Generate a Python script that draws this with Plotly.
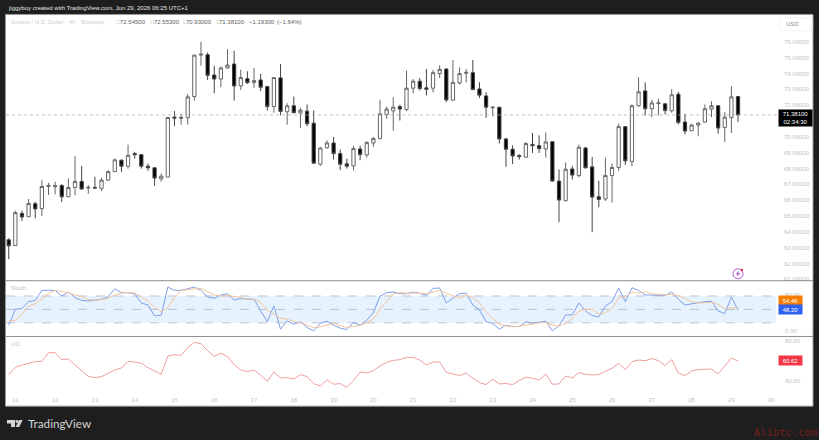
import plotly.graph_objects as go

# Solana / USD, 4h candles
open_ = [63.49,63.13,65.16,64.95,65.77,65.46,66.86,66.84,66.92,66.21,66.80,67.18,66.76,66.80,66.74,67.26,67.80,68.52,68.14,68.94,
         68.87,68.14,68.04,67.34,67.45,71.24,71.16,71.20,72.54,75.16,75.18,73.90,73.65,74.35,74.60,73.21,73.67,73.42,73.59,73.17,
         71.91,73.72,71.58,71.96,71.50,71.62,70.86,68.27,69.31,69.61,68.94,68.29,68.16,69.23,68.85,69.61,69.88,71.41,71.64,71.91,
         71.72,73.07,73.51,73.09,73.07,73.99,74.28,72.31,73.40,74.01,74.05,73.02,72.58,71.83,71.87,69.86,69.21,68.81,68.71,69.52,
         69.44,69.23,69.69,67.20,65.96,67.97,67.55,69.29,68.10,66.21,66.07,67.55,68.06,70.64,68.44,71.96,72.90,71.77,72.10,72.08,
         71.64,72.69,70.93,70.38,70.74,70.93,71.75,71.96,70.59,71.22,72.545]
high = [63.59,65.33,65.33,66.07,65.90,67.26,67.09,67.16,67.01,67.37,68.77,68.16,66.95,67.47,67.41,67.89,68.62,68.56,69.50,69.04,
        68.90,68.31,68.04,67.68,71.24,71.62,71.45,72.71,75.16,76.00,75.33,74.49,74.45,75.54,75.44,74.24,74.14,74.35,73.97,73.17,
        73.74,74.60,72.12,72.54,71.83,72.04,71.66,69.36,69.78,69.99,69.19,68.62,69.44,69.44,69.73,69.99,72.33,71.91,72.50,72.02,
        74.18,73.65,73.72,74.28,74.22,74.51,74.32,74.85,74.39,74.28,74.85,73.44,72.81,71.91,71.87,69.94,69.46,68.90,69.67,70.24,
        70.09,70.28,69.69,67.93,68.37,68.16,69.50,69.36,68.73,67.22,68.69,68.31,70.82,70.66,72.04,73.76,73.44,72.33,72.40,72.12,
        73.02,72.84,71.45,70.82,70.93,72.04,72.25,71.98,71.56,73.19,72.553]
low = [62.27,63.13,64.68,64.95,64.85,65.00,66.32,66.36,65.88,66.21,66.30,66.67,66.40,66.72,66.57,67.22,67.76,67.78,67.99,68.62,
       67.99,67.85,66.90,67.16,67.45,70.66,70.76,70.76,72.29,74.49,73.59,72.75,73.13,74.32,72.29,72.96,73.34,73.09,72.88,71.66,
       71.52,71.35,70.76,71.50,70.55,70.66,68.31,68.16,69.25,68.56,67.89,67.99,67.87,68.52,68.69,69.36,69.84,71.14,70.38,71.03,
       71.62,72.75,72.92,72.61,72.81,73.72,72.19,72.31,73.30,73.44,72.96,72.44,71.20,71.29,69.57,68.10,68.27,68.56,68.69,68.98,
       68.98,68.69,67.18,64.60,65.92,67.30,67.43,67.99,63.97,65.54,65.94,65.84,67.85,68.22,68.14,71.91,71.35,71.24,71.35,71.41,
       71.52,70.78,70.15,70.36,70.03,70.91,71.24,70.19,69.67,70.24,70.93]
close = [63.11,65.21,64.93,65.79,65.44,66.86,66.92,66.92,66.21,66.80,67.18,66.70,66.80,66.76,67.26,67.80,68.54,68.14,68.83,68.87,
         68.14,68.04,67.39,67.51,71.22,71.18,71.22,72.52,75.16,75.22,73.88,73.65,74.35,74.53,73.21,73.74,73.42,73.55,73.13,71.91,
         73.74,71.60,71.96,71.52,71.68,70.82,68.33,69.29,69.61,68.94,68.27,68.14,69.25,68.87,69.63,69.88,71.45,71.75,71.87,71.75,
         73.07,73.51,73.05,73.00,74.05,74.26,72.33,73.44,73.99,74.07,72.98,72.63,71.87,71.87,69.86,69.21,68.79,68.75,69.57,69.44,
         69.25,69.67,67.20,66.00,67.95,67.58,69.34,68.04,66.19,66.04,67.55,68.06,70.64,68.48,71.96,72.84,71.77,72.14,72.14,71.66,
         72.65,70.91,70.36,70.74,70.86,71.77,71.96,70.55,71.24,72.52,71.381]

# Stochastic %K and %D
stoch_k = [14.7,50.3,51.8,67.3,70.3,92.5,92.5,92.5,79.9,88.8,76.2,70.3,68.8,71.0,72.5,78.4,96.2,87.3,87.3,85.1,
           64.4,59.9,35.5,37.0,100.0,92.5,92.5,96.2,99.9,92.5,77.7,74.8,82.2,85.1,71.0,74.0,74.0,72.5,46.6,22.9,
           57.7,5.9,24.4,17.0,22.2,9.6,2.2,19.2,23.6,14.7,8.1,5.1,20.7,14.7,25.9,42.9,79.2,87.3,88.8,85.1,
           85.1,88.8,85.9,81.4,97.0,97.7,64.4,74.8,85.9,85.9,59.9,48.8,22.9,18.5,5.9,14.7,11.8,11.8,22.2,19.2,
           20.7,23.6,2.2,13.3,37.7,37.7,64.4,46.6,36.2,33.3,57.7,67.3,97.7,67.3,98.4,92.5,82.2,82.2,82.2,81.4,
           88.8,72.5,59.9,62.9,64.4,67.3,68.1,46.6,40.7,77.7,48.20]
stoch_d = [24.4,25.9,39.2,57.7,62.9,74.8,85.1,92.5,89.6,87.3,82.2,78.4,72.5,70.3,71.8,74.8,82.2,86.6,88.1,86.6,
           77.7,68.8,54.0,45.1,54.0,76.2,92.5,94.0,96.2,97.0,89.6,82.2,79.9,80.7,79.2,76.2,73.3,72.5,65.1,48.1,
           39.2,30.3,28.1,22.9,20.7,14.7,9.6,11.0,15.5,19.2,13.3,9.6,11.8,14.0,20.7,28.1,50.3,68.8,85.1,87.3,
           85.9,86.6,86.6,85.1,88.1,92.5,85.9,79.9,74.8,82.2,76.2,65.1,44.4,30.3,17.0,13.3,11.0,12.5,15.5,18.5,
           19.9,20.7,14.7,12.5,18.5,30.3,46.6,50.3,50.3,39.2,42.2,52.5,74.8,77.7,88.1,86.6,89.6,85.1,82.9,82.2,
           83.6,80.7,74.8,67.3,64.4,64.4,65.8,61.4,51.8,53.3,54.46]

# Ultimate oscillator
uo = [47.0,54.3,56.6,58.3,60.0,60.3,69.0,69.0,62.0,62.6,57.0,51.0,45.3,44.0,45.0,48.3,51.6,53.6,60.3,59.6,
      58.3,54.0,50.3,47.3,65.6,67.0,66.3,74.3,79.3,78.0,71.0,65.3,68.6,65.0,57.0,51.6,50.0,51.6,46.6,40.3,
      49.6,43.6,44.0,42.6,47.0,45.0,38.0,35.6,41.6,37.3,38.0,34.0,41.0,49.6,48.6,51.0,55.6,59.3,61.3,62.0,
      64.3,64.3,61.6,56.6,59.6,59.6,49.3,47.3,46.0,48.6,43.3,39.0,37.0,42.3,37.6,38.0,37.0,41.0,44.3,43.3,
      41.6,47.6,37.3,37.6,45.6,43.6,49.0,47.3,46.6,47.0,50.0,53.3,58.3,52.0,60.0,61.6,61.0,63.0,61.0,56.0,
      62.0,48.6,46.0,50.6,52.0,52.0,52.6,47.6,56.0,63.6,60.62]

# Bar index of each midnight and the day-of-month labels under it
day_ticks = [1, 7, 13, 19, 25, 31, 37, 43, 49, 55, 61, 67, 73, 79, 85, 91, 97, 103, 109, 115]
day_labels = ["11","12","13","14","15","16","17","18","19","20","21","22","23","24","25","26","27","28","29","30"]

price_ticks = [76, 75, 74, 73, 72, 70, 69, 68, 67, 66, 65, 64, 63, 62, 61]
last_price = 71.381

W, H = 819, 440
AXIS_GREY = "#c2c2c2"
FONT = "Liberation Sans"
bars = list(range(len(close)))


def fx(px):
    return px / W


def fy(py):
    return 1 - (py + 1) / H


def outline(*points):
    # Closed SVG path on paper coordinates, from a list of pixel points
    return "M " + " L ".join(f"{fx(a):.5f} {fy(b):.5f}" for a, b in points) + " Z"


def rect(x0, y0, x1, y1, **style):
    return dict(type="rect", xref="paper", yref="paper", x0=fx(x0), x1=fx(x1),
                y0=fy(y0), y1=fy(y1), **style)


def label(text, px, py, color, size=6, anchor="left", family=FONT, **extra):
    return dict(text=text, x=fx(px), y=fy(py), xref="paper", yref="paper", xanchor=anchor,
                yanchor="middle", showarrow=False,
                font=dict(size=size, color=color, family=family), **extra)


def tag(text, py, color, width, height=9):
    return label(text, 778, py, "#ffffff", size=6, bgcolor=color, width=width, height=height,
                 borderpad=0, align="center")


fig = go.Figure()
fig.add_trace(go.Candlestick(
    x=bars, open=open_, high=high, low=low, close=close, whiskerwidth=0, showlegend=False,
    xaxis="x", yaxis="y",
    increasing=dict(fillcolor="#ffffff", line=dict(color="#666666", width=1)),
    decreasing=dict(fillcolor="#000000", line=dict(color="#444444", width=1)),
))
fig.add_trace(go.Scatter(x=bars, y=stoch_k, mode="lines", line=dict(color="#7f9fe9", width=1),
                         xaxis="x2", yaxis="y2", showlegend=False))
fig.add_trace(go.Scatter(x=bars, y=stoch_d, mode="lines", line=dict(color="#f2c49c", width=1),
                         xaxis="x2", yaxis="y2", showlegend=False))
fig.add_trace(go.Scatter(x=bars, y=uo, mode="lines", line=dict(color="#ee9d9d", width=1),
                         xaxis="x3", yaxis="y3", showlegend=False))

shapes = [
    rect(5.5, 13.5, 813, 407, fillcolor="#ffffff", line=dict(color="#9a9a9a", width=1), layer="below"),
    rect(780, 17, 812, 30, fillcolor="rgba(0,0,0,0)", line=dict(color="#f2f2f2", width=1), layer="below"),
    dict(type="rect", xref="paper", yref="y2", x0=fx(6), x1=fx(776), y0=20, y1=80,
         fillcolor="#e6f2fd", line=dict(width=0), layer="below"),
    dict(type="line", xref="paper", yref="y", x0=fx(6), x1=fx(778), y0=last_price, y1=last_price,
         line=dict(color="#a8a8a8", width=0.7, dash="dot")),
]
for level in (80, 50, 20):
    shapes.append(dict(type="line", xref="paper", yref="y2", x0=fx(6), x1=fx(776), y0=level, y1=level,
                       line=dict(color="#a6b1c1", width=0.7, dash="dash"), layer="below"))
for py in (281, 337):
    shapes.append(dict(type="line", xref="paper", yref="paper", x0=fx(6), x1=fx(813), y0=fy(py), y1=fy(py),
                       line=dict(color="#8d8d8d", width=1)))

# Alert badge above the price axis
shapes += [
    dict(type="circle", xref="paper", yref="paper", x0=fx(733), x1=fx(743), y0=fy(269), y1=fy(279),
         fillcolor="#ffffff", line=dict(color="#b45ccc", width=1)),
    dict(type="path", xref="paper", yref="paper", fillcolor="#b45ccc", line=dict(width=0),
         path=outline((739.2, 270.8), (735.8, 274.8), (737.6, 274.8), (736.8, 277.2), (740.2, 273.2), (738.4, 273.2))),
    dict(type="circle", xref="paper", yref="paper", x0=fx(740.6), x1=fx(743.2), y0=fy(269), y1=fy(271.6),
         fillcolor="#e8354a", line=dict(width=0)),
]

# TradingView mark in the footer
shapes += [
    dict(type="path", xref="paper", yref="paper", fillcolor="#d4d4d4", line=dict(width=0),
         path=outline((7, 421), (15, 421), (15, 428), (11, 428), (11, 424.4), (7, 424.4))),
    dict(type="circle", xref="paper", yref="paper", x0=fx(15.4), x1=fx(18.4), y0=fy(421), y1=fy(424),
         fillcolor="#d4d4d4", line=dict(width=0)),
    dict(type="path", xref="paper", yref="paper", fillcolor="#d4d4d4", line=dict(width=0),
         path=outline((19.2, 421), (22.6, 421), (19.2, 428), (15.6, 428))),
]

annotations = [
    label("jiggyboy created with TradingView.com, Jun 29, 2026 06:25 UTC+1", 6, 7.5, "#e6e6e6"),
    label("Solana / U.S. Dollar · 4h · Bitstamp", 9.3, 21.5, "#cfcfcf"),
    label("USD", 784, 23, "#8c8c8c"),
    label("Stoch", 9, 288.5, AXIS_GREY),
    label("UO", 9, 344.5, AXIS_GREY),
    label("TradingView", 25.5, 423.5, "#d4d4d4", size=11.7, family="Lato"),
    label("Alibtc.com", 752, 432.5, "#761f1f", size=10.5, family="DejaVu Sans Mono"),
    label("80.00", 783, 295.2, AXIS_GREY),
    label("0.00", 783, 331.8, AXIS_GREY),
    label("80.00", 783, 341.8, AXIS_GREY),
    label("40.00", 783, 381.8, AXIS_GREY),
    tag("71.38100<br>02:34:30", 118, "#000000", 33, 16),
    tag("54.46", 300.7, "#f57c00", 23),
    tag("48.20", 309.7, "#2f62f0", 23),
    tag("60.62", 361, "#f23645", 23),
]
ohlc_parts = [("O", 114), ("72.54500", 118), ("H", 148), ("72.55300", 152), ("L", 181), ("70.93000", 184),
              ("C", 214), ("71.38100", 217), ("−1.19300", 246.5), ("(−1.64%)", 275)]
for text, px in ohlc_parts:
    annotations.append(label(text, px, 21.5, "#cfcfcf" if len(text) == 1 else "#5c5c5c"))

hidden = dict(showgrid=False, zeroline=False, showline=False, ticks="")
x_range = [-0.41, 116.03]
x_domain = [fx(6), fx(778)]
fig.update_layout(
    width=W, height=H, margin=dict(l=0, r=0, t=0, b=0), autosize=False,
    paper_bgcolor="#1e1e1e", plot_bgcolor="rgba(0,0,0,0)",
    font=dict(family=FONT, size=6, color=AXIS_GREY),
    shapes=shapes, annotations=annotations,
    xaxis=dict(domain=x_domain, range=x_range, anchor="y", showticklabels=False,
               rangeslider=dict(visible=False), **hidden),
    xaxis2=dict(domain=x_domain, range=x_range, anchor="y2", matches="x", showticklabels=False, **hidden),
    xaxis3=dict(domain=x_domain, range=x_range, anchor="y3", matches="x", tickmode="array",
                tickvals=day_ticks, ticktext=day_labels, ticklabelstandoff=3,
                tickfont=dict(size=6, color=AXIS_GREY), **hidden),
    yaxis=dict(domain=[fy(281), fy(15)], range=[60.906, 77.635], side="right", anchor="x",
               tickmode="array", tickvals=price_ticks, ticktext=[f"{p:.5f}" for p in price_ticks],
               ticklabelstandoff=5, tickfont=dict(size=6, color=AXIS_GREY), **hidden),
    yaxis2=dict(domain=[fy(337), fy(282)], range=[-10.4, 111.8], side="right", anchor="x2",
                showticklabels=False, **hidden),
    yaxis3=dict(domain=[fy(393), fy(338)], range=[29.3, 84.3], side="right", anchor="x3",
                showticklabels=False, **hidden),
)

fig.write_html("out.html")
